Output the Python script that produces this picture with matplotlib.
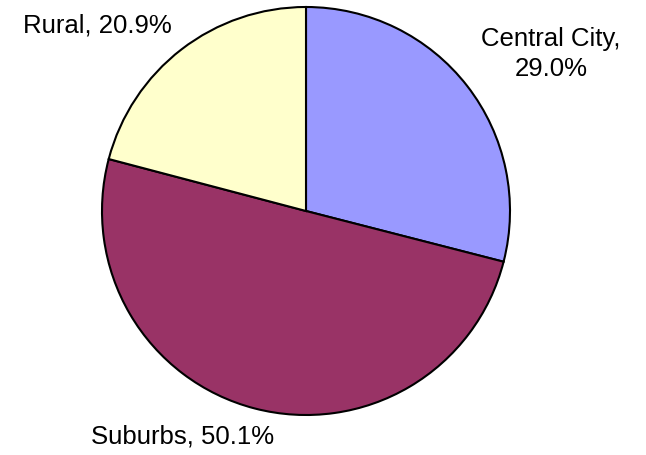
import matplotlib.pyplot as plt

# data
labels = ['Central City', 'Suburbs', 'Rural']
shares = [29.0, 50.1, 20.9]
colors = ['#9999FF', '#993366', '#FFFFCC']

W, H = 646, 456
cx, cy, r = 306, 212, 204  # pie centre / radius in pixels

fig = plt.figure(figsize=(W / 100, H / 100), dpi=100)
ax = fig.add_axes([0, 0, 1, 1])

wedges, _ = ax.pie(shares, colors=colors, startangle=90, counterclock=False,
                   radius=1, wedgeprops=dict(edgecolor='black', linewidth=1.5))

ax.set_xlim(-cx / r, (W - cx) / r)
ax.set_ylim(-(H - cy) / r, cy / r)
ax.set_aspect('equal')
ax.axis('off')

# label text, centred at these pixel spots
label_txt = ['Central City,\n29.0%', 'Suburbs, 50.1%', 'Rural, 20.9%']
label_pos = [(551, 54), (183, 437), (97, 25)]
for t, (px, py) in zip(label_txt, label_pos):
    ax.text((px - cx) / r, (cy - py) / r, t, ha='center', va='center',
            fontsize=18.5, family='Liberation Sans', linespacing=1.3)

plt.savefig('out.png', dpi=100)
